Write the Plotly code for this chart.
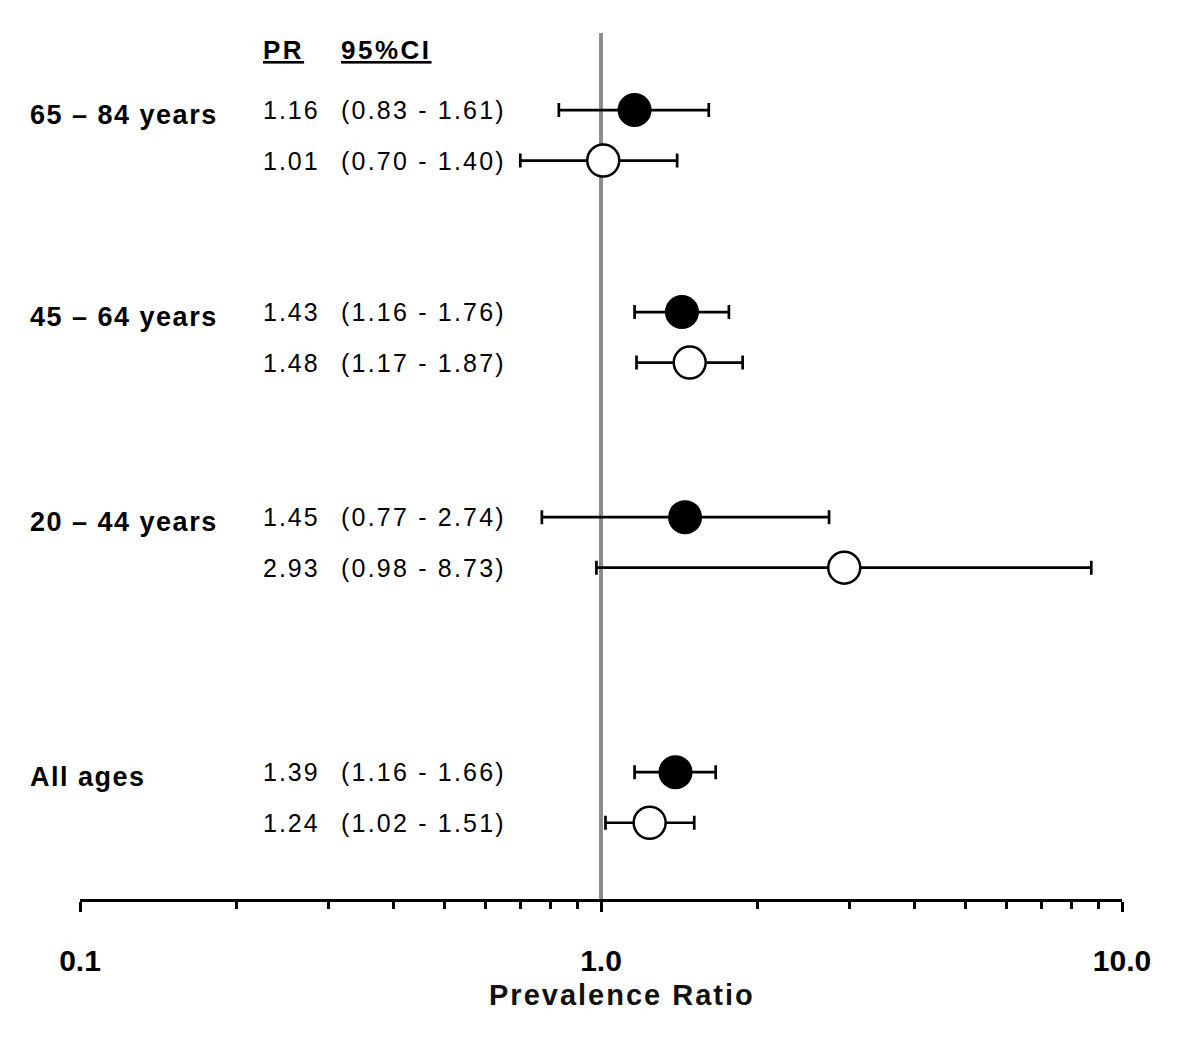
import plotly.graph_objects as go

# ---- data ----
groups = ["65 – 84 years", "45 – 64 years", "20 – 44 years", "All ages"]
pr_filled = [1.16, 1.43, 1.45, 1.39]
lo_filled = [0.83, 1.16, 0.77, 1.16]
hi_filled = [1.61, 1.76, 2.74, 1.66]
pr_open = [1.01, 1.48, 2.93, 1.24]
lo_open = [0.70, 1.17, 0.98, 1.02]
hi_open = [1.40, 1.87, 8.73, 1.51]
tick_vals = [0.1, 1.0, 10.0]
tick_labels = ["0.1", "1.0", "10.0"]
x_title = "Prevalence Ratio"

# ---- layout helpers ----
group_pos = [0, 4.0, 8.06, 13.11]   # row units (one unit ~ 50 px)
y_filled = [g for g in group_pos]
y_open = [g + 1 for g in group_pos]
FONT = "Arial, Liberation Sans, sans-serif"
W, H = 1192, 1029   # page body has an 8px margin
ML, MR, MT, MB = 72, 78, 25, 138
PW = W - ML - MR
PH = H - MT - MB

def sp(text, ls):
    return f"<span style='letter-spacing:{ls}px'>{text}</span>"

def px_to_paper_x(px):
    return (px - 8 - ML) / PW

fig = go.Figure()

# reference line at PR = 1
fig.add_shape(type="line", xref="x", yref="paper", x0=1, x1=1, y0=0, y1=1,
              line=dict(color="#8c8c8c", width=4), layer="below")

fig.add_trace(go.Scatter(
    x=pr_filled, y=y_filled, mode="markers",
    marker=dict(size=32, color="black", line=dict(color="black", width=2)),
    error_x=dict(type="data", symmetric=False,
                 array=[h - p for h, p in zip(hi_filled, pr_filled)],
                 arrayminus=[p - l for p, l in zip(pr_filled, lo_filled)],
                 color="black", thickness=2.7, width=7),
    showlegend=False, hoverinfo="skip"))

fig.add_trace(go.Scatter(
    x=pr_open, y=y_open, mode="markers",
    marker=dict(size=32, color="white", line=dict(color="black", width=2.5)),
    error_x=dict(type="data", symmetric=False,
                 array=[h - p for h, p in zip(hi_open, pr_open)],
                 arrayminus=[p - l for p, l in zip(pr_open, lo_open)],
                 color="black", thickness=2.7, width=7),
    showlegend=False, hoverinfo="skip"))

ann = []
x_lab, x_pr, x_ci = px_to_paper_x(28), px_to_paper_x(261), px_to_paper_x(339)
for i, g in enumerate(groups):
    ann.append(dict(x=x_lab, y=group_pos[i] + 0.1, xref="paper", yref="y",
                    text=f"<b>{sp(g, 1.5)}</b>", showarrow=False, xanchor="left",
                    yanchor="middle", font=dict(family=FONT, size=27, color="black")))
    for yy, p, l, h in [(y_filled[i], pr_filled[i], lo_filled[i], hi_filled[i]),
                        (y_open[i], pr_open[i], lo_open[i], hi_open[i])]:
        ann.append(dict(x=x_pr, y=yy, xref="paper", yref="y",
                        text=sp(f"{p:.2f}", 2), showarrow=False, xanchor="left",
                        yanchor="middle", font=dict(family=FONT, size=25, color="black")))
        ann.append(dict(x=x_ci, y=yy, xref="paper", yref="y",
                        text=sp(f"({l:.2f} - {h:.2f})", 2.2), showarrow=False, xanchor="left",
                        yanchor="middle", font=dict(family=FONT, size=25, color="black")))

# header
for xx, t in [(x_pr, "PR"), (x_ci, "95%CI")]:
    ann.append(dict(x=xx, y=-1.19, xref="paper", yref="y",
                    text=f"<b><u>{sp(t, 2.5)}</u></b>", showarrow=False, xanchor="left",
                    yanchor="middle", font=dict(family=FONT, size=26, color="black")))

# axis title
ann.append(dict(x=px_to_paper_x(487), y=-0.0904, xref="paper", yref="paper",
                text=f"<b>{sp(x_title, 2.0)}</b>", showarrow=False, xanchor="left",
                yanchor="top", font=dict(family=FONT, size=29, color="#111111")))

minor_vals = [m * d for d in (0.1, 1.0) for m in range(2, 10)]

fig.update_layout(
    width=W, height=H,
    margin=dict(l=ML, r=MR, t=MT, b=MB),
    plot_bgcolor="white", paper_bgcolor="white",
    annotations=ann,
    xaxis=dict(type="log", range=[-1, 1], showgrid=False, zeroline=False,
               showline=True, linecolor="black", linewidth=3,
               ticks="outside", ticklen=10, tickwidth=3, tickcolor="black",
               tickmode="array", tickvals=tick_vals, ticktext=tick_labels,
               tickfont=dict(family=FONT, size=30, color="black", weight="bold"),
               ticklabelstandoff=23,
               minor=dict(ticks="outside", ticklen=7, tickwidth=3, tickcolor="black",
                          tickmode="array", tickvals=minor_vals, showgrid=False)),
    yaxis=dict(range=[15.62, -1.525], visible=False, showgrid=False, zeroline=False),
)

fig.write_html("out.html")
